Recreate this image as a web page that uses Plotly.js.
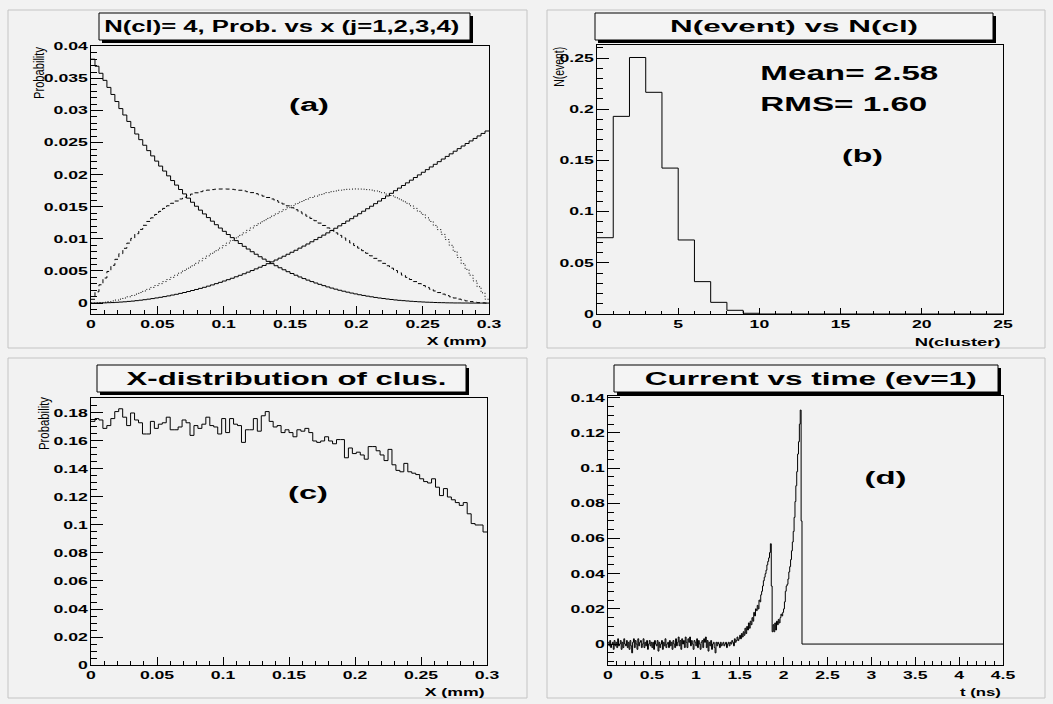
<!DOCTYPE html>
<html>
<head>
<meta charset="utf-8">
<script src="https://cdn.plot.ly/plotly-3.0.1.min.js"></script>
<style>
html, body { margin: 0; padding: 0; background: #f2f2f2; }
#chart { width: 1053px; height: 704px; }
</style>
</head>
<body>
<div id="chart"></div>
<script>
// ---------- (a) probability of the j-th cluster position, N(cl)=4 ----------
const binA = { start: 0, size: 0.003 };   // 100 bins over 0..0.3 mm
const probJ1 = [
  0.0380, 0.0369, 0.0358, 0.0347, 0.0336, 0.0325, 0.0314, 0.0303, 0.0293, 0.0283,
  0.02735, 0.02634, 0.02546, 0.02459, 0.02375, 0.02293, 0.02212, 0.02134, 0.02057, 0.01982,
  0.01909, 0.01838, 0.01769, 0.01701, 0.01635, 0.01571, 0.01509, 0.01448, 0.01389, 0.01332,
  0.01276, 0.01221, 0.01169, 0.01118, 0.01068, 0.01020, 0.00973, 0.00928, 0.00884, 0.00842,
  0.00800, 0.00761, 0.00722, 0.00685, 0.00650, 0.00615, 0.00582, 0.00550, 0.00519, 0.00489,
  0.00461, 0.00434, 0.00407, 0.00382, 0.00358, 0.00335, 0.00313, 0.00292, 0.00272, 0.00252,
  0.00234, 0.00217, 0.00200, 0.00185, 0.00170, 0.00156, 0.00143, 0.00130, 0.00119, 0.00108,
  0.00098, 0.00088, 0.00079, 0.00071, 0.00063, 0.00056, 0.00049, 0.00043, 0.00038, 0.00033,
  0.00028, 0.00024, 0.00020, 0.00017, 0.00014, 0.00012, 0.00009, 0.00007, 0.00006, 0.00004,
  0.00003, 0.00002, 0.00002, 0.00001, 0.00001, 0, 0, 0, 0, 0
];
const probJ2 = [
  0.00059, 0.00175, 0.00285, 0.00391, 0.00493, 0.00589, 0.00682, 0.00770, 0.00854, 0.00934,
  0.01009, 0.01081, 0.01148, 0.01212, 0.01272, 0.01328, 0.01381, 0.01429, 0.01475, 0.01516,
  0.01555, 0.01590, 0.01622, 0.01650, 0.01676, 0.01698, 0.01718, 0.01735, 0.01748, 0.01760,
  0.01768, 0.01774, 0.01777, 0.01778, 0.01776, 0.01772, 0.01766, 0.01758, 0.01747, 0.01735,
  0.01721, 0.01704, 0.01686, 0.01666, 0.01645, 0.01622, 0.01597, 0.01571, 0.01544, 0.01515,
  0.01485, 0.01454, 0.01421, 0.01388, 0.01354, 0.01319, 0.01283, 0.01246, 0.01209, 0.01171,
  0.01133, 0.01094, 0.01055, 0.01015, 0.00975, 0.00936, 0.00896, 0.00856, 0.00816, 0.00776,
  0.00736, 0.00697, 0.00658, 0.00619, 0.00581, 0.00544, 0.00507, 0.00471, 0.00435, 0.00401,
  0.00367, 0.00335, 0.00303, 0.00273, 0.00244, 0.00216, 0.00189, 0.00164, 0.00140, 0.00118,
  0.00098, 0.00079, 0.00062, 0.00047, 0.00034, 0.00023, 0.00014, 0.00007, 0.00003, 0.00000
];
const probJ3 = [
  0.00000, 0.00003, 0.00007, 0.00014, 0.00023, 0.00034, 0.00047, 0.00062, 0.00079, 0.00098,
  0.00118, 0.00140, 0.00164, 0.00189, 0.00216, 0.00244, 0.00273, 0.00303, 0.00335, 0.00367,
  0.00401, 0.00435, 0.00471, 0.00507, 0.00544, 0.00581, 0.00619, 0.00658, 0.00697, 0.00736,
  0.00776, 0.00816, 0.00856, 0.00896, 0.00936, 0.00975, 0.01015, 0.01055, 0.01094, 0.01133,
  0.01171, 0.01209, 0.01246, 0.01283, 0.01319, 0.01354, 0.01388, 0.01421, 0.01454, 0.01485,
  0.01515, 0.01544, 0.01571, 0.01597, 0.01622, 0.01645, 0.01666, 0.01686, 0.01704, 0.01721,
  0.01735, 0.01747, 0.01758, 0.01766, 0.01772, 0.01776, 0.01778, 0.01777, 0.01774, 0.01768,
  0.01760, 0.01748, 0.01735, 0.01718, 0.01698, 0.01676, 0.01650, 0.01622, 0.01590, 0.01555,
  0.01516, 0.01475, 0.01429, 0.01381, 0.01328, 0.01272, 0.01210, 0.01145, 0.01070, 0.00990,
  0.00900, 0.00805, 0.00710, 0.00615, 0.00525, 0.00435, 0.00345, 0.00255, 0.00160, 0.00060
];
const probJ4 = [
  0.00000, 0.00001, 0.00002, 0.00003, 0.00006, 0.00008, 0.00012, 0.00016, 0.00020, 0.00026,
  0.00031, 0.00038, 0.00045, 0.00053, 0.00061, 0.00070, 0.00080, 0.00090, 0.00101, 0.00112,
  0.00125, 0.00137, 0.00151, 0.00165, 0.00180, 0.00196, 0.00212, 0.00229, 0.00246, 0.00264,
  0.00283, 0.00303, 0.00323, 0.00344, 0.00365, 0.00387, 0.00410, 0.00433, 0.00457, 0.00482,
  0.00507, 0.00533, 0.00559, 0.00586, 0.00614, 0.00642, 0.00671, 0.00700, 0.00730, 0.00761,
  0.00792, 0.00823, 0.00856, 0.00888, 0.00921, 0.00955, 0.00989, 0.01024, 0.01059, 0.01094,
  0.01130, 0.01166, 0.01203, 0.01240, 0.01278, 0.01315, 0.01354, 0.01392, 0.01431, 0.01470,
  0.01509, 0.01549, 0.01589, 0.01629, 0.01669, 0.01710, 0.01751, 0.01791, 0.01832, 0.01873,
  0.01915, 0.01956, 0.01997, 0.02038, 0.02079, 0.02121, 0.02162, 0.02203, 0.02244, 0.02285,
  0.02325, 0.02366, 0.02406, 0.02447, 0.02486, 0.02526, 0.02565, 0.02604, 0.02643, 0.02681
];

// ---------- (b) fraction of events vs number of clusters ----------
const nClusterLow = [0, 1, 2, 3, 4, 5, 6, 7, 8, 9, 10, 11, 12, 13, 14, 15, 16, 17, 18, 19, 20, 21, 22, 23, 24];
const nEventFrac = [0.0745, 0.193, 0.2505, 0.2165, 0.1425, 0.0723, 0.0316, 0.0114, 0.0036, 0.0007,
                    0, 0, 0, 0, 0, 0, 0, 0, 0, 0, 0, 0, 0, 0, 0];
const statLines = ['Mean= 2.58', 'RMS= 1.60'];

// ---------- (c) x-distribution of clusters ----------
const binC = { start: 0, size: 0.003 };
const xDistProb = [
  0.174, 0.176, 0.175, 0.169, 0.171, 0.176, 0.181, 0.183, 0.177, 0.171,
  0.180, 0.175, 0.173, 0.165, 0.165, 0.174, 0.169, 0.172, 0.173, 0.177,
  0.168, 0.168, 0.170, 0.175, 0.173, 0.164, 0.171, 0.169, 0.172, 0.177,
  0.171, 0.170, 0.165, 0.176, 0.166, 0.176, 0.172, 0.171, 0.159, 0.168,
  0.168, 0.176, 0.167, 0.178, 0.181, 0.174, 0.170, 0.171, 0.166, 0.168,
  0.166, 0.163, 0.168, 0.167, 0.169, 0.166, 0.160, 0.159, 0.160, 0.163,
  0.160, 0.158, 0.161, 0.161, 0.148, 0.155, 0.151, 0.152, 0.150, 0.147,
  0.156, 0.156, 0.153, 0.150, 0.146, 0.154, 0.143, 0.139, 0.138, 0.144,
  0.138, 0.137, 0.136, 0.133, 0.131, 0.130, 0.133, 0.127, 0.121, 0.126,
  0.120, 0.118, 0.116, 0.114, 0.116, 0.108, 0.101, 0.100, 0.100, 0.095
];

// ---------- (d) induced current vs time, event 1 ----------
const binD = { start: 0, size: 0.01 };   // ns
const tEnd = 4.5;
const current = [
  0.001, -0.001, 0.002, -0.002, 0.000, 0.001, -0.003, 0.002, -0.001, 0.001,
  -0.002, 0.003, -0.001, 0.000, 0.002, -0.003, 0.001, -0.002, 0.003, 0.000,
  -0.001, 0.002, -0.002, 0.001, -0.003, 0.002, -0.001, -0.005, 0.001, 0.003,
  -0.002, 0.002, 0.000, -0.003, 0.003, -0.001, 0.001, 0.002, -0.002, 0.000,
  0.003, -0.002, 0.001, -0.001, 0.002, -0.003, 0.000, 0.002, -0.001, 0.001,
  -0.002, 0.001, -0.003, 0.002, 0.000, -0.001, 0.002, -0.004, 0.001, -0.002,
  0.000, 0.002, -0.003, 0.001, -0.001, 0.003, -0.002, 0.000, 0.001, -0.002,
  0.002, -0.001, 0.001, -0.003, 0.002, 0.000, -0.002, 0.003, -0.001, 0.001,
  0.004, -0.001, 0.002, -0.003, 0.003, 0.000, 0.002, -0.002, 0.004, 0.001,
  -0.002, 0.003, 0.001, 0.004, -0.001, 0.002, 0.000, -0.003, 0.002, 0.001,
  -0.001, 0.003, -0.002, 0.002, 0.000, -0.003, 0.001, 0.002, -0.002, 0.003,
  0.001, 0.004, -0.002, 0.002, -0.004, 0.001, -0.001, 0.002, -0.003, 0.000,
  0.001, -0.002, -0.005, 0.001, -0.001, 0.001, 0.000, -0.002, 0.001, -0.001,
  0.000, 0.001, -0.001, 0.000, 0.001, -0.002, 0.000, 0.001, -0.001, 0.001,
  0.000, 0.002, 0.001, -0.001, 0.003, 0.001, 0.002, 0.004, 0.002, 0.003,
  0.005, 0.003, 0.006, 0.004, 0.007, 0.005, 0.009, 0.006, 0.010, 0.008,
  0.012, 0.009, 0.013, 0.011, 0.015, 0.013, 0.018, 0.016, 0.020, 0.019,
  0.022, 0.020, 0.025, 0.024, 0.028, 0.030, 0.033, 0.036, 0.038, 0.040,
  0.042, 0.045, 0.047, 0.049, 0.052, 0.057, 0.033, 0.007, 0.011, 0.007,
  0.012, 0.008, 0.013, 0.011, 0.014, 0.012, 0.015, 0.017, 0.016, 0.018,
  0.020, 0.024, 0.030, 0.033, 0.034, 0.037, 0.041, 0.044, 0.048, 0.053,
  0.058, 0.064, 0.072, 0.081, 0.090, 0.098, 0.108, 0.115, 0.125, 0.133,
  0.070, 0.000
];

// ---------- helpers ----------
const W = 1053, H = 704;
const px = x => x / W;            // pixel -> paper x
const py = y => 1 - y / H;        // pixel -> paper y

// histogram outline from fixed-width bins (ROOT-style steps)
function stepLine(start, size, values, end) {
  const x = values.map((_, i) => start + i * size);
  const y = values.slice();
  x.push(end === undefined ? start + values.length * size : end);
  y.push(values[values.length - 1]);
  return { x, y };
}

function hist(start, size, values, xa, ya, dash, end) {
  const s = stepLine(start, size, values, end);
  return {
    type: 'scatter', mode: 'lines', hoverinfo: 'skip', showlegend: false,
    x: s.x, y: s.y, xaxis: xa, yaxis: ya,
    line: { color: '#000', width: 1, shape: 'hv', dash: dash || 'solid' }
  };
}

const traces = [
  hist(binA.start, binA.size, probJ1, 'x', 'y'),
  hist(binA.start, binA.size, probJ2, 'x', 'y', '4px,3px'),
  hist(binA.start, binA.size, probJ3, 'x', 'y', '1px,2px'),
  hist(binA.start, binA.size, probJ4, 'x', 'y'),
  hist(nClusterLow[0], 1, nEventFrac, 'x2', 'y2'),
  hist(binC.start, binC.size, xDistProb, 'x3', 'y3'),
  hist(binD.start, binD.size, current, 'x4', 'y4', 'solid', tEnd)
];

const FONT = 'Liberation Sans, Arial, Helvetica, sans-serif';
function axis(domain, range, dtick, len, minorDtick, minorLen, anchor) {
  return {
    domain, range, anchor, tick0: 0, dtick,
    showgrid: false, zeroline: false,
    showline: true, linecolor: '#000', linewidth: 1, mirror: true,
    ticks: 'inside', ticklen: len, tickwidth: 1, tickcolor: '#000',
    minor: { ticks: 'inside', ticklen: minorLen, dtick: minorDtick, tickwidth: 1, tickcolor: '#000', showgrid: false },
    tickfont: { family: FONT, size: 11, color: '#000', weight: 'bold' },
    fixedrange: true
  };
}

// pad frames (pixel rectangles) and title boxes
const pads = [[8, 10, 527, 348], [547, 10, 1045, 348], [8, 358, 527, 698], [547, 358, 1045, 698]];
const titleBoxes = [[99, 13, 470, 40], [595, 13, 993, 40], [97, 365, 466, 392], [614, 365, 998, 392]];
const shapes = [];
pads.forEach(p => shapes.push({ type: 'rect', xref: 'paper', yref: 'paper',
  x0: px(p[0]), x1: px(p[2]), y0: py(p[1]), y1: py(p[3]),
  fillcolor: 'rgba(0,0,0,0)', line: { color: '#c4c4c4', width: 1 } }));
titleBoxes.forEach(b => {
  shapes.push({ type: 'rect', xref: 'paper', yref: 'paper',
    x0: px(b[0] + 3), x1: px(b[2] + 3), y0: py(b[1] + 3), y1: py(b[3] + 3),
    fillcolor: '#000', line: { width: 0 } });
  shapes.push({ type: 'rect', xref: 'paper', yref: 'paper',
    x0: px(b[0]), x1: px(b[2]), y0: py(b[1]), y1: py(b[3]),
    fillcolor: '#f4f4f4', line: { color: '#000', width: 1 } });
});

// text items: [text, centre x, centre y, font size, bold, drawn width, angle]
const texts = [
  ['N(cl)= 4, Prob. vs x (j=1,2,3,4)', 281, 26.5, 16, true, 355, 0],
  ['N(event) vs N(cl)', 794, 27, 17, true, 248, 0],
  ['X-distribution of clus.', 286, 378.5, 18, true, 320, 0],
  ['Current vs time (ev=1)', 811, 378.5, 18, true, 332, 0],
  ['(a)', 309, 105, 18, true, 40, 0],
  ['(b)', 862, 155.5, 18, true, 41, 0],
  ['(c)', 308, 493, 18, true, 40, 0],
  ['(d)', 885, 478, 18, true, 42, 0],
  [statLines[0], 849.5, 72.5, 21, true, 178, 0],
  [statLines[1], 844, 104, 21, true, 167, 0],
  ['X (mm)', 457, 341, 11, true, 60, 0],
  ['N(cluster)', 958, 341.5, 11, true, 86, 0],
  ['X (mm)', 455, 692, 11, true, 60, 0],
  ['t (ns)', 980.5, 692, 11, true, 41, 0],
  ['Probability', 38.5, 72.5, 15, false, 52, -90],
  ['N(event)', 559, 66.7, 14, false, 40, -90],
  ['Probability', 43, 423.5, 15, false, 53, -90]
];
const annotations = texts.map(t => ({
  text: t[0], xref: 'paper', yref: 'paper', x: px(t[1]), y: py(t[2]),
  xanchor: 'center', yanchor: 'middle', showarrow: false, textangle: t[6],
  font: { family: FONT, size: t[3], color: '#000', weight: t[4] ? 'bold' : 'normal' }
}));

const layout = {
  width: W, height: H, margin: { l: 0, r: 0, t: 0, b: 0 },
  paper_bgcolor: '#f2f2f2', plot_bgcolor: '#f2f2f2',
  showlegend: false,
  xaxis:  axis([px(91), px(489)], [0, 0.3], 0.05, 8, 0.01, 4, 'y'),
  yaxis:  axis([py(314), py(46)], [-0.0017, 0.04005], 0.005, 12, 0.001, 6, 'x'),
  xaxis2: axis([px(597), px(1003)], [0, 25], 5, 6, 1, 3, 'y2'),
  yaxis2: axis([py(314), py(45)], [0, 0.2627], 0.05, 12, 0.01, 6, 'x2'),
  xaxis3: axis([px(91), px(487)], [0, 0.3], 0.05, 8, 0.01, 4, 'y3'),
  yaxis3: axis([py(665), py(398)], [0, 0.1907], 0.02, 12, 0.005, 6, 'x3'),
  xaxis4: axis([px(608), px(1003)], [0, 4.5], 0.5, 8, 0.1, 4, 'y4'),
  yaxis4: axis([py(665), py(396)], [-0.0119, 0.141], 0.02, 12, 0.005, 6, 'x4'),
  shapes, annotations
};

// labels on this canvas are drawn with wide glyphs: stretch each text to its width
function setWidth(el, w) {
  el.setAttribute('textLength', w);
  el.setAttribute('lengthAdjust', 'spacingAndGlyphs');
}
const TICK_STRETCH = 1.6;

Plotly.newPlot('chart', traces, layout, { staticPlot: true, displayModeBar: false }).then(gd => {
  gd.querySelectorAll('.xtick text, .ytick text, .x2tick text, .y2tick text, .x3tick text, .y3tick text, .x4tick text, .y4tick text')
    .forEach(t => setWidth(t, t.getComputedTextLength() * TICK_STRETCH));
  texts.forEach((t, i) => {
    const el = gd.querySelector('.annotation[data-index="' + i + '"] text.annotation-text');
    if (el) setWidth(el, t[5]);
  });
});
</script>
</body>
</html>
